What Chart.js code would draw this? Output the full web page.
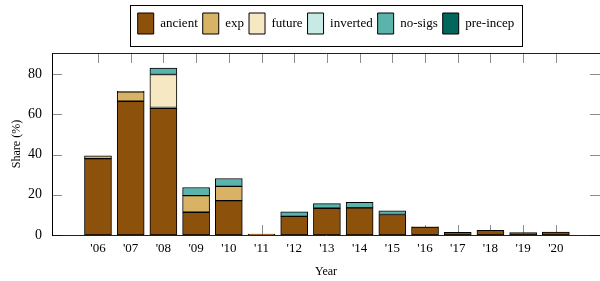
<!DOCTYPE html>
<html>
<head>
<meta charset="utf-8">
<script src="https://cdn.jsdelivr.net/npm/chart.js@4"></script>
<style>
  html, body { margin: 0; padding: 0; background: #fff; }
  #wrap { width: 600px; height: 281px; }
</style>
</head>
<body>
<div id="wrap"><canvas id="chart" width="600" height="281"></canvas></div>
<script>
// datos
const years = ["'06", "'07", "'08", "'09", "'10", "'11", "'12", "'13", "'14", "'15", "'16", "'17", "'18", "'19", "'20"];
const ancient  = [38, 66.5, 63, 11.3, 17.1, 0.4, 9.3, 13.3, 13.5, 10.2, 3.9, 1.3, 2.3, 1.2, 1.5];
const exp      = [1.4, 4.7, 0.4, 8.3, 7.1, 0, 0, 0, 0, 0, 0.2, 0, 0, 0, 0];
const future   = [0, 0, 16.4, 0, 0, 0, 0, 0, 0, 0, 0, 0, 0, 0, 0];
const inverted = [0, 0, 0, 0, 0, 0, 0, 0, 0, 0, 0, 0, 0, 0, 0];
const noSigs   = [0, 0.3, 3.2, 4.0, 3.9, 0, 2.2, 2.3, 2.8, 1.8, 0, 0, 0, 0, 0];
const preIncep = [0, 0, 0, 0, 0, 0, 0, 0, 0, 0, 0, 0, 0, 0, 0];
const yTicks = [0, 20, 40, 60, 80];

const FONT = "'Liberation Serif', 'DejaVu Serif', serif";
const firstYear = 6;
const xMin = 4.594, xMax = 21.35;

function toPoints(arr) {
    return arr.map((v, i) => ({ x: firstYear + i, y: v }));
}

function ds(label, arr, color) {
    return {
        label: label,
        data: toPoints(arr),
        backgroundColor: color,
        borderColor: '#000',
        borderWidth: 1,
        borderSkipped: false,
        barThickness: 27
    };
}

// marcas de graduación hacia dentro, como en pgfplots
const innerTicks = {
    id: 'innerTicks',
    beforeDatasetsDraw(chart) {
        const ctx = chart.ctx;
        const a = chart.chartArea;
        const xs = chart.scales.x, ys = chart.scales.y;
        const len = 10;
        ctx.save();
        ctx.strokeStyle = 'rgba(0,0,0,0.45)';
        ctx.lineWidth = 1;
        ctx.beginPath();
        years.forEach((_, i) => {
            const px = Math.round(xs.getPixelForValue(firstYear + i)) + 0.5;
            ctx.moveTo(px, a.bottom); ctx.lineTo(px, a.bottom - len);
            ctx.moveTo(px, a.top); ctx.lineTo(px, a.top + len);
        });
        yTicks.forEach(t => {
            const py = Math.round(ys.getPixelForValue(t)) + 0.5;
            ctx.moveTo(a.left, py); ctx.lineTo(a.left + len, py);
            ctx.moveTo(a.right, py); ctx.lineTo(a.right - len, py);
        });
        ctx.stroke();
        ctx.restore();
    },
    afterDraw(chart) {
        // recuadro de la leyenda
        const lg = chart.legend;
        if (!lg || !lg.legendHitBoxes.length) return;
        const hb = lg.legendHitBoxes;
        const left = Math.min(...hb.map(h => h.left)) - 8;
        const right = Math.max(...hb.map(h => h.left + h.width)) + 7;
        const top = Math.min(...hb.map(h => h.top)) - 8;
        const bottom = Math.max(...hb.map(h => h.top + h.height)) + 12;
        const ctx = chart.ctx;
        ctx.save();
        ctx.strokeStyle = '#000';
        ctx.lineWidth = 1;
        ctx.strokeRect(Math.round(left) + 0.5, Math.round(top) + 0.5, Math.round(right - left), Math.round(bottom - top));
        ctx.restore();
    }
};

const ctx = document.getElementById('chart').getContext('2d');
const chart = new Chart(ctx, {
    type: 'bar',
    data: {
        datasets: [
            ds('ancient', ancient, '#8c510a'),
            ds('exp', exp, '#d8b365'),
            ds('future', future, '#f6e8c3'),
            ds('inverted', inverted, '#c7eae5'),
            ds('no-sigs', noSigs, '#5ab4ac'),
            ds('pre-incep', preIncep, '#01665e')
        ]
    },
    options: {
        responsive: false,
        animation: false,
        layout: { padding: { top: 8, left: 0, right: 0, bottom: 0 } },
        plugins: {
            tooltip: { enabled: false },
            legend: {
                position: 'top',
                fullSize: false,
                labels: {
                    boxWidth: 16,
                    boxHeight: 21,
                    padding: 5,
                    color: '#000',
                    font: { family: FONT, size: 13 }
                }
            }
        },
        scales: {
            x: {
                type: 'linear',
                stacked: true,
                offset: false,
                min: xMin,
                max: xMax,
                afterBuildTicks: s => { s.ticks = years.map((_, i) => ({ value: firstYear + i })); },
                afterFit: s => { s.height = 46; },
                grid: { display: false, drawTicks: false, offset: false },
                border: { display: true, color: '#222', width: 1 },
                ticks: {
                    padding: 6,
                    color: '#000',
                    autoSkip: false,
                    maxRotation: 0,
                    font: { family: FONT, size: 13 },
                    callback: v => years[v - firstYear]
                },
                title: {
                    display: true,
                    text: 'Year',
                    color: '#000',
                    padding: { top: 2, bottom: 2 },
                    font: { family: FONT, size: 12 }
                }
            },
            xTop: {
                type: 'linear',
                position: 'top',
                offset: false,
                min: xMin,
                max: xMax,
                afterFit: s => { s.height = 9; },
                grid: { display: false, drawTicks: false, offset: false },
                border: { display: true, color: '#222', width: 1 },
                ticks: { display: false }
            },
            y: {
                stacked: true,
                min: 0,
                max: 90.5,
                afterBuildTicks: s => { s.ticks = yTicks.map(v => ({ value: v })); },
                afterFit: s => { s.width = 52; },
                grid: { display: false, drawTicks: false },
                border: { display: true, color: '#000', width: 1 },
                ticks: {
                    padding: 10,
                    color: '#000',
                    font: { family: FONT, size: 14 }
                },
                title: {
                    display: true,
                    text: 'Share (%)',
                    color: '#000',
                    padding: { top: 10, bottom: 0 },
                    font: { family: FONT, size: 12 }
                }
            }
        }
    },
    plugins: [innerTicks]
});
</script>
</body>
</html>
